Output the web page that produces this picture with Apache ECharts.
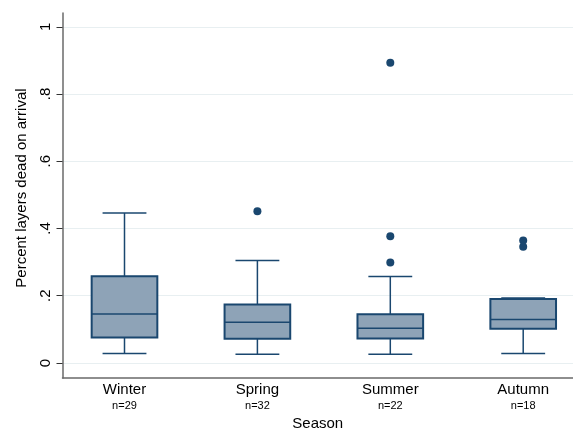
<!DOCTYPE html>
<html>
<head>
<meta charset="utf-8">
<script src="https://cdn.jsdelivr.net/npm/echarts@6/dist/echarts.min.js"></script>
<style>html,body{margin:0;padding:0;background:#fff;}#c{width:573px;height:436px;}</style>
</head>
<body>
<div id="c"></div>
<script>
var categories = ['Winter', 'Spring', 'Summer', 'Autumn'];
var nLabels = ['n=29', 'n=32', 'n=22', 'n=18'];
var whiskerLow = [0.028, 0.026, 0.026, 0.028];
var q1 = [0.076, 0.072, 0.073, 0.102];
var median = [0.146, 0.121, 0.103, 0.129];
var q3 = [0.258, 0.174, 0.145, 0.190];
var whiskerHigh = [0.446, 0.305, 0.257, 0.193];
var outliers = [[1, 0.451], [2, 0.893], [2, 0.377], [2, 0.299], [3, 0.364], [3, 0.346]];
var yTicks = [0, 0.2, 0.4, 0.6, 0.8, 1];
var yTickLabels = ['0', '.2', '.4', '.6', '.8', '1'];

var navy = '#1a476f';
var boxData = categories.map(function (c, i) {
  return [i, whiskerLow[i], q1[i], median[i], q3[i], whiskerHigh[i]];
});

var chart = echarts.init(document.getElementById('c'), null, {renderer: 'canvas'});
chart.setOption({
  animation: false,
  backgroundColor: '#fff',
  grid: {left: 62.5, right: 0, top: 13, bottom: 44.5, containLabel: false},
  xAxis: {
    type: 'value', min: -0.4665, max: 3.3747,
    axisLine: {show: true, onZero: false, lineStyle: {color: '#6a6a6a', width: 1.5}},
    axisTick: {show: false},
    splitLine: {show: false},
    axisLabel: {
      customValues: [0, 1, 2, 3],
      margin: 4,
      formatter: function (v) {
        var i = Math.round(v);
        return '{a|' + categories[i] + '}\n{b|' + nLabels[i] + '}';
      },
      rich: {
        a: {fontFamily: 'Liberation Sans, Arial', fontSize: 15, color: '#000', lineHeight: 16},
        b: {fontFamily: 'Liberation Sans, Arial', fontSize: 11, color: '#000', lineHeight: 15}
      }
    },
    name: 'Season', nameLocation: 'middle', nameGap: 33,
    nameTextStyle: {fontFamily: 'Liberation Sans, Arial', fontSize: 15, color: '#000'}
  },
  yAxis: {
    type: 'value', min: -0.045, max: 1.041,
    axisLine: {show: true, onZero: false, lineStyle: {color: '#6a6a6a', width: 1.5}},
    axisTick: {show: true, customValues: yTicks, length: 6, lineStyle: {color: '#333', width: 1}},
    splitLine: {show: true, lineStyle: {color: '#e8eff1', width: 1}},
    axisLabel: {
      customValues: yTicks, rotate: 90, margin: 9,
      fontFamily: 'Liberation Sans, Arial', fontSize: 15, color: '#000',
      formatter: function (v) {
        var best = 0;
        for (var k = 0; k < yTicks.length; k++) if (Math.abs(yTicks[k] - v) < Math.abs(yTicks[best] - v)) best = k;
        return yTickLabels[best];
      }
    },
    name: 'Percent layers dead on arrival', nameLocation: 'middle', nameGap: 33,
    nameTextStyle: {fontFamily: 'Liberation Sans, Arial', fontSize: 15, color: '#000', padding: [0, 0, 0, 15]}
  },
  series: [
    {
      type: 'custom',
      data: boxData,
      encode: {x: 0, y: [1, 2, 3, 4, 5]},
      renderItem: function (params, api) {
        var x = api.value(0);
        var pLow = api.coord([x, api.value(1)]);
        var pQ1 = api.coord([x, api.value(2)]);
        var pMed = api.coord([x, api.value(3)]);
        var pQ3 = api.coord([x, api.value(4)]);
        var pHigh = api.coord([x, api.value(5)]);
        var bw = api.size([0.494, 0])[0];
        var cw = api.size([0.33, 0])[0];
        var cx = pMed[0];
        var ls = {stroke: navy, lineWidth: 1.5, fill: null};
        return {
          type: 'group',
          children: [
            {type: 'line', shape: {x1: cx, y1: pLow[1], x2: cx, y2: pQ1[1]}, style: ls},
            {type: 'line', shape: {x1: cx, y1: pQ3[1], x2: cx, y2: pHigh[1]}, style: ls},
            {type: 'line', shape: {x1: cx - cw / 2, y1: pLow[1], x2: cx + cw / 2, y2: pLow[1]}, style: ls},
            {type: 'line', shape: {x1: cx - cw / 2, y1: pHigh[1], x2: cx + cw / 2, y2: pHigh[1]}, style: ls},
            {type: 'rect', shape: {x: cx - bw / 2, y: pQ3[1], width: bw, height: pQ1[1] - pQ3[1]},
              style: {fill: '#8ea3b7', stroke: navy, lineWidth: 2}},
            {type: 'line', shape: {x1: cx - bw / 2, y1: pMed[1], x2: cx + bw / 2, y2: pMed[1]}, style: ls}
          ]
        };
      }
    },
    {
      type: 'scatter',
      data: outliers,
      symbol: 'circle', symbolSize: 8,
      itemStyle: {color: navy, opacity: 1}
    }
  ]
});
</script>
</body>
</html>
